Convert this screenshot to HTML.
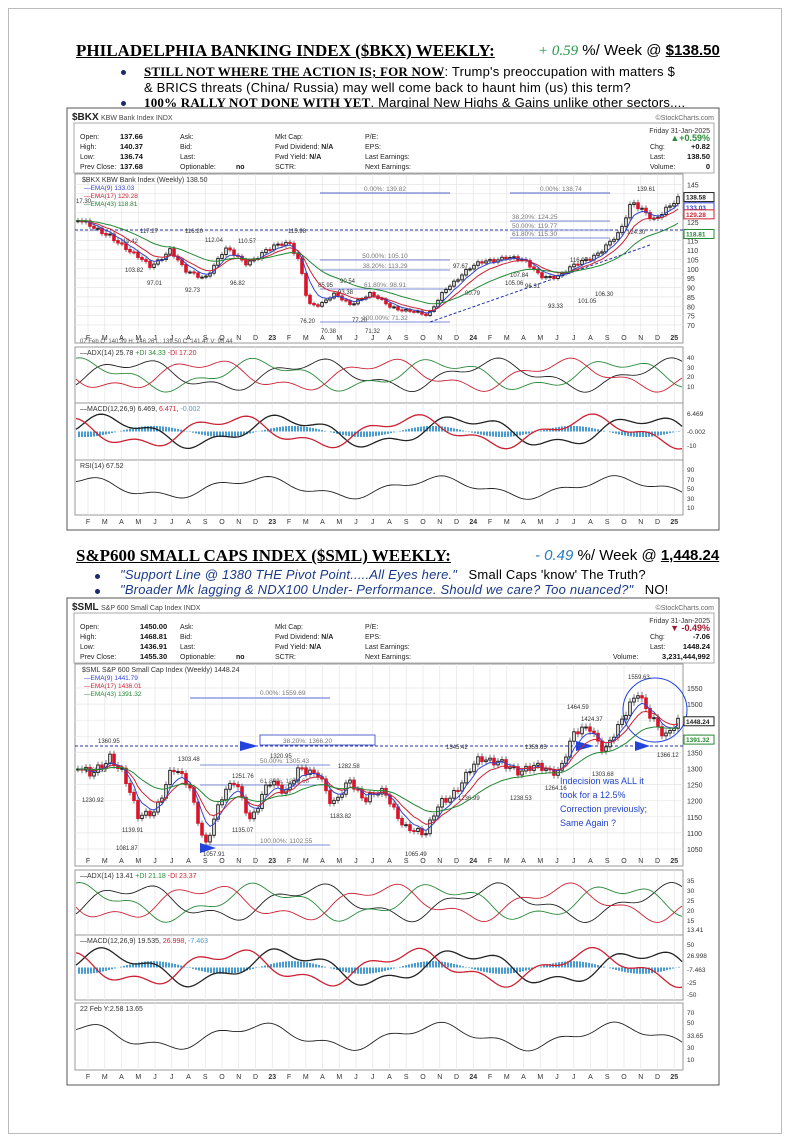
<!DOCTYPE html>
<html><head><meta charset="utf-8">
<style>
body{margin:0;background:#fff;width:790px;height:1142px;position:relative;overflow:hidden;font-family:"Liberation Sans",sans-serif;}
.frame{position:absolute;left:8px;top:8px;width:772px;height:1124px;border:1px solid #bbb;}
.t{position:absolute;white-space:nowrap;line-height:15px;}
.title{font-family:"Liberation Serif",serif;font-weight:bold;font-size:17px;text-decoration:underline;line-height:18px;}
.b{font-size:13px;letter-spacing:0.2px;}
.dot{position:absolute;width:5px;height:5px;border-radius:50%;background:#1a2a6a;}
svg text{font-family:"Liberation Sans",sans-serif;}
</style></head><body>
<div class="frame"></div>
<div class="t title" style="left:76px;top:42px;">PHILADELPHIA BANKING INDEX ($BKX) WEEKLY:</div>
<div class="t" style="left:538px;top:43px;font-size:15px;"><span style="color:#2a9a4a;font-family:'Liberation Serif',serif;font-style:italic">+ 0.59</span> %/ Week @ <b style="text-decoration:underline">$138.50</b></div>
<div class="dot" style="left:121px;top:70px"></div>
<div class="t b" style="left:144px;top:64px;"><span style="font-family:'Liberation Serif',serif;font-weight:bold;text-decoration:underline">STILL NOT WHERE THE ACTION IS; FOR NOW</span>: Trump's preoccupation with matters $</div>
<div class="t b" style="left:144px;top:80px;">&amp; BRICS threats (China/ Russia) may well come back to haunt him (us) this term?</div>
<div class="dot" style="left:121px;top:101px"></div>
<div class="t b" style="left:144px;top:95px;"><span style="font-family:'Liberation Serif',serif;font-weight:bold;text-decoration:underline">100% RALLY NOT DONE WITH YET</span>. Marginal New Highs &amp; Gains unlike other sectors....</div>

<div class="t title" style="left:76px;top:547px;">S&amp;P600 SMALL CAPS INDEX ($SML) WEEKLY:</div>
<div class="t" style="left:535px;top:548px;font-size:15px;"><span style="color:#2a7ac0;font-style:italic">- 0.49</span> %/ Week @ <b style="text-decoration:underline">1,448.24</b></div>
<div class="dot" style="left:95px;top:574px"></div>
<div class="t b" style="left:120px;top:567px;"><i style="color:#1a3a8a">"Support Line @ 1380 THE Pivot Point.....All Eyes here."</i>&nbsp;&nbsp; Small Caps 'know' The Truth?</div>
<div class="dot" style="left:95px;top:589px"></div>
<div class="t b" style="left:120px;top:582px;"><i style="color:#1a3a8a">"Broader Mk lagging &amp; NDX100 Under- Performance. Should we care? Too nuanced?"</i>&nbsp;&nbsp; NO!</div>

<svg id="s" width="790" height="1142" style="position:absolute;left:0;top:0"></svg>
<script>
const S=document.getElementById('s');let h='';
function R(x,y,w,hh,f,st){h+=`<rect x="${x}" y="${y}" width="${w}" height="${hh}" fill="${f||'none'}" stroke="${st||'none'}" stroke-width="1"/>`}
function L(x1,y1,x2,y2,c,w,d){h+=`<line x1="${x1}" y1="${y1}" x2="${x2}" y2="${y2}" stroke="${c}" stroke-width="${w||1}" ${d?`stroke-dasharray="${d}"`:''}/>`}
function T(x,y,s,sz,c,a,w){h+=`<text x="${x}" y="${y}" font-size="${sz||7}" fill="${c||'#222'}" ${a?`text-anchor="${a}"`:''} ${w?'font-weight="bold"':''}>${s}</text>`}
function P(pts,c,w){h+=`<polyline points="${pts.map(p=>p[0].toFixed(1)+','+p[1].toFixed(1)).join(' ')}" fill="none" stroke="${c}" stroke-width="${w||1}"/>`}
function interp(k,x){for(let i=0;i<k.length-1;i++){if(x>=k[i][0]&&x<=k[i+1][0]){let t=(x-k[i][0])/(k[i+1][0]-k[i][0]);return k[i][1]+t*(k[i+1][1]-k[i][1]);}}return k[k.length-1][1];}
const months=['F','M','A','M','J','J','A','S','O','N','D','23','F','M','A','M','J','J','A','S','O','N','D','24','F','M','A','M','J','J','A','S','O','N','D','25'];
function grid(x0,x1,y0,y1){for(let i=0;i<36;i++){let x=88+i*16.75;L(x,y0,x,y1,'#e6e6e6',0.7);}}
function axis(y){months.forEach((m,i)=>T(88+i*16.75,y,m,7,'#333','middle',/\d/.test(m)));}
function chart(o){
 const X0=75,X1=683;
 R(o.x,o.y,o.w,o.h,'#fff','#555');
 T(72,o.y+12,o.sym,10,'#222',null,1);T(72+o.sym.length*6.5+3,o.y+12,o.name,7,'#444');
 T(714,o.y+12,'©StockCharts.com',7,'#666','end');
 R(74,o.y+15,640,50,'#fff','#aaa');
 let iy=o.y+31;
 [['Open:',o.open],['High:',o.high],['Low:',o.low],['Prev Close:',o.prev]].forEach((r,i)=>{T(80,iy+i*10,r[0],7);T(120+(o.sym=='$SML'?20:0),iy+i*10,r[1],7.5,'#111',null,1)});
 ['Ask:','Bid:','Last:','Optionable:'].forEach((s,i)=>T(180,iy+i*10,s,7));T(236,iy+30,'no',7,'#111',null,1);
 ['Mkt Cap:','Fwd Dividend: <tspan font-weight="bold">N/A</tspan>','Fwd Yield:       <tspan font-weight="bold">N/A</tspan>','SCTR:'].forEach((s,i)=>T(275,iy+i*10,s,7));
 ['P/E:','EPS:','Last Earnings:','Next Earnings:'].forEach((s,i)=>T(365,iy+i*10,s,7));
 T(710,o.y+25,'Friday  31-Jan-2025',7,'#333','end');
 T(710,iy+2,o.pct,9,o.pc,'end',1);
 T(710,iy+10,o.chg,7.5,'#111','end',1);T(650,iy+10,'Chg:',7);
 T(710,iy+20,o.last,7.5,'#111','end',1);T(650,iy+20,'Last:',7);
 T(710,iy+30,o.vol,7.5,'#111','end',1);T(o.sym=='$SML'?613:650,iy+30,'Volume:',7);
 const py0=o.y+66,py1=o.p1;
 R(X0,py0,X1-X0,py1-py0,'#fff','#999');grid(X0,X1,py0,py1);
 o.ticks.forEach(v=>{let y=o.vy(v);if(y>py0+3&&y<py1-2){L(X0,y,X1,y,'#e6e6e6',0.7);T(687,y+3,v,7,'#333');}});
 T(82,py0+8,o.legend,7,'#333');T(84,py0+16,'—EMA(9) '+o.e[0],6.5,'#3344cc');T(84,py0+24,'—EMA(17) '+o.e[1],6.5,'#cc2233');T(84,py0+32,'—EMA(43) '+o.e[2],6.5,'#228833');
 (o.extra||(()=>{}))();
 let closes=[],xs=[];
 for(let x=X0+3;x<X1-3;x+=4){let v=interp(o.k,x)*(1+0.012*Math.sin(x*1.7)+0.008*Math.sin(x*0.53));closes.push(v);xs.push(x);}
 let prev=closes[0];
 closes.forEach((c,i)=>{let x=xs[i];let hi=Math.max(prev,c)*(1+o.wk),lo=Math.min(prev,c)*(1-o.wk);
  let up=c>=prev;L(x,o.vy(hi),x,o.vy(lo),'#222',0.6);
  let y1=o.vy(Math.max(prev,c)),y2=o.vy(Math.min(prev,c));R(x-1.3,y1,2.6,Math.max(1,y2-y1),up?'#fff':'#d8142a',up?'#222':'#d8142a');prev=c;});
 [[9,'#3344cc'],[17,'#cc2233'],[43,'#228833']].forEach(([n,c])=>{let a=2/(n/1.8+1),e=closes[0],pts=[];closes.forEach((v,i)=>{e=e+a*(v-e);pts.push([xs[i],o.vy(e)])});P(pts,c,1);});
 (o.boxes||[]).forEach(a=>{let y=o.vy(a[0])+3;R(684,y-7,30,9,'#fff',a[2]);T(686,y,a[1],6.5,a[2],null,1)});
 axis(py1-3);
 o.ind.forEach((p,j)=>{
  R(X0,p[0],X1-X0,p[1]-p[0],'#fff','#999');grid(X0,X1,p[0],p[1]);
  T(80,p[0]+8,p[2],7,'#333');
  let m=(p[0]+p[1])/2,a=(p[1]-p[0])*0.28;
  p[3].forEach(v=>T(687,v[0],v[1],6.5,'#333'));
  if(j==1){for(let x=X0+3;x<X1-3;x+=3){let v=Math.sin(x*0.045+1)*a*0.35;R(x,Math.min(m,m-v),2,Math.abs(v),'#4a9bd0');}}
  let cols=p[4];cols.forEach((c,ci)=>{let pts=[];for(let x=X0+1;x<X1;x+=3){let v=m+a*(Math.sin(x*0.035+ci*1.9+j)*0.8+0.3*Math.sin(x*0.11+ci*2.3))*(j==2&&ci==0?0.7:1);pts.push([x,v]);}P(pts,c,j==1?1.3:0.9);});
 });
 axis(o.y+o.h-6);
}
chart({x:67,y:108,w:652,h:422,sym:'$BKX',name:'KBW Bank Index  INDX',open:'137.66',high:'140.37',low:'136.74',prev:'137.68',pct:'▲+0.59%',pc:'#2a8a3a',chg:'+0.82',last:'138.50',vol:'0',
 p1:343,vy:v=>175+(150-v)*1.875,ticks:[150,145,140,135,130,125,120,115,110,105,100,95,90,85,80,75,70],
 legend:'$BKX KBW Bank Index (Weekly) 138.50',e:['133.03','129.28','118.81'],wk:0.012,
 boxes:[[138.5,'138.58','#222'],[133.03,'133.03','#3344cc'],[129.28,'129.28','#cc2233'],[118.81,'118.81','#228833']],
 k:[[75,126],[90,122],[110,119],[130,108],[150,102],[170,110],[185,98],[205,96],[225,110],[245,103],[265,110],[290,113],[300,104],[308,82],[320,80],[335,86],[350,82],[370,86],[390,80],[410,78],[428,74],[445,90],[465,98],[485,104],[505,107],[525,103],[540,97],[560,96],[580,103],[600,110],[620,118],[632,136],[645,132],[655,126],[670,132],[680,138]],
 extra:()=>{L(75,230,683,230,'#2233aa',1,'3,2');L(320,193,450,193,'#5566cc',1);L(510,193,610,193,'#5566cc',1);T(385,191,'0.00%: 139.82',6.5,'#777','middle');T(540,191,'0.00%: 138.74',6.5,'#777');
  [[268,'38.20%: 113.29'],[287,'61.80%: 98.91'],[320,'100.00%: 71.32'],[258,'50.00%: 105.10']].forEach(a=>{L(320,a[0]+2,450,a[0]+2,'#5566cc',0.8);T(385,a[0],a[1],6.5,'#777','middle')});
  [[219,'38.20%: 124.25'],[228,'50.00%: 119.77'],[236,'61.80%: 115.30']].forEach(a=>{L(510,a[0]+2,610,a[0]+2,'#5566cc',0.8);T(512,a[0],a[1],6.5,'#777')});
  L(430,322,650,245,'#2233aa',1,'3,2');
  [[120,243,'119.42'],[140,233,'117.27'],[185,233,'116.20'],[205,242,'112.04'],[238,243,'110.57'],[288,233,'115.98'],[125,272,'103.82'],[147,285,'97.01'],[185,292,'92.73'],[230,285,'96.82'],[318,287,'85.95'],[300,323,'76.20'],[321,333,'70.38'],[352,322,'77.20'],[338,294,'93.38'],[340,283,'90.54'],[365,333,'71.32'],[453,268,'97.67'],[465,295,'90.79'],[505,285,'105.06'],[510,277,'107.84'],[525,288,'96.31'],[548,308,'93.33'],[578,303,'101.05'],[595,296,'106.30'],[570,262,'116.07'],[627,234,'124.30'],[637,191,'139.61']].forEach(a=>T(a[0],a[1],a[2],6,'#333'));
  T(76,203,'17.30',6,'#333');
  T(80,343,'07 Feb O: 140.39  H: 146.26  L: 139.50  C: 141.47  V: 95.44',6,'#555');
 },
 ind:[[347,403,'—ADX(14) 25.78  <tspan fill="#2a8a3a">+DI 34.33</tspan>  <tspan fill="#cc2233">-DI 17.20</tspan>',[[360,'40'],[370,'30'],[379,'20'],[389,'10']],['#222','#2a8a3a','#cc2233']],
      [403,460,'—MACD(12,26,9) 6.469, <tspan fill="#cc2233">6.471</tspan>, <tspan fill="#4a9bd0">-0.002</tspan>',[[416,'6.469'],[434,'-0.002'],[448,'-10']],['#222','#cc2233']],
      [460,515,'RSI(14) 67.52',[[472,'90'],[482,'70'],[491,'50'],[501,'30'],[510,'10']],['#222']]]
});
chart({x:67,y:598,w:652,h:487,sym:'$SML',name:'S&amp;P 600 Small Cap Index  INDX',open:'1450.00',high:'1468.81',low:'1436.91',prev:'1455.30',pct:'▼  -0.49%',pc:'#a01830',chg:'-7.06',last:'1448.24',vol:'3,231,444,992',
 p1:866,vy:v=>688+(1550-v)*0.322,ticks:[1550,1500,1450,1400,1350,1300,1250,1200,1150,1100,1050],
 legend:'$SML S&amp;P 600 Small Cap Index (Weekly) 1448.24',e:['1441.79','1436.01','1391.32'],wk:0.008,
 boxes:[[1448.24,'1448.24','#222'],[1391.32,'1391.32','#228833']],
 k:[[75,1300],[90,1270],[110,1350],[122,1290],[138,1140],[155,1180],[172,1300],[190,1230],[205,1070],[220,1200],[235,1250],[250,1150],[268,1260],[285,1210],[300,1320],[318,1280],[332,1170],[350,1280],[365,1200],[385,1220],[405,1130],[425,1080],[440,1200],[460,1250],[480,1320],[500,1340],[520,1270],[540,1320],[560,1290],[575,1400],[590,1440],[605,1360],[620,1420],[638,1550],[650,1480],[665,1380],[680,1448]],
 extra:()=>{L(75,746,683,746,'#2233aa',1,'3,2');L(190,698,330,698,'#7788dd',1.2);T(260,695,'0.00%: 1559.69',6.5,'#777');
  R(260,735,115,10,'#fff','#5566cc');T(283,743,'38.20%: 1366.20',6.5,'#777');
  [[763,'50.00%: 1305.43'],[783,'61.80%: 1246.68'],[843,'100.00%: 1102.55']].forEach(a=>{L(200,a[0]+2,330,a[0]+2,'#5566cc',0.8);T(260,a[0],a[1],6.5,'#777')});
  h+='<polygon points="240,741 258,746 240,751" fill="#2244dd"/><polygon points="576,741 594,746 576,751" fill="#2244dd"/><polygon points="635,741 650,746 635,751" fill="#2244dd"/><polygon points="200,843 216,848 200,853" fill="#2244dd"/>';
  h+='<circle cx="655" cy="710" r="32" fill="none" stroke="#2244dd" stroke-width="1"/>';
  [[98,743,'1360.95'],[85,772,'1265.52'],[82,802,'1230.92'],[122,832,'1139.91'],[116,850,'1081.87'],[178,761,'1303.48'],[232,778,'1251.76'],[232,832,'1135.07'],[203,856,'1057.91'],[270,758,'1320.95'],[338,768,'1282.58'],[330,818,'1183.82'],[405,856,'1065.49'],[446,749,'1345.42'],[458,800,'1236.99'],[510,800,'1238.53'],[525,749,'1353.65'],[545,790,'1264.16'],[592,776,'1303.68'],[567,709,'1464.59'],[581,721,'1424.37'],[628,679,'1559.63'],[657,757,'1366.12']].forEach(a=>T(a[0],a[1],a[2],6,'#333'));
  [['Indecision was ALL it',784],['took for a 12.5%',798],['Correction previously;',812],['Same Again ?',826]].forEach(a=>T(560,a[1],a[0],9,'#2244cc'));
 },
 ind:[[870,935,'—ADX(14) 13.41  <tspan fill="#2a8a3a">+DI 21.18</tspan>  <tspan fill="#cc2233">-DI 23.37</tspan>',[[883,'35'],[893,'30'],[903,'25'],[913,'20'],[923,'15'],[932,'13.41']],['#222','#2a8a3a','#cc2233']],
      [935,1000,'—MACD(12,26,9) 19.535, <tspan fill="#cc2233">26.998</tspan>, <tspan fill="#4a9bd0">-7.463</tspan>',[[947,'50'],[958,'26.998'],[972,'-7.463'],[985,'-25'],[997,'-50']],['#222','#cc2233']],
      [1003,1070,'22 Feb Y:2.58  13.65',[[1015,'70'],[1025,'50'],[1038,'33.65'],[1050,'30'],[1062,'10']],['#222']]]
});
S.innerHTML=h;
</script>
</body></html>
